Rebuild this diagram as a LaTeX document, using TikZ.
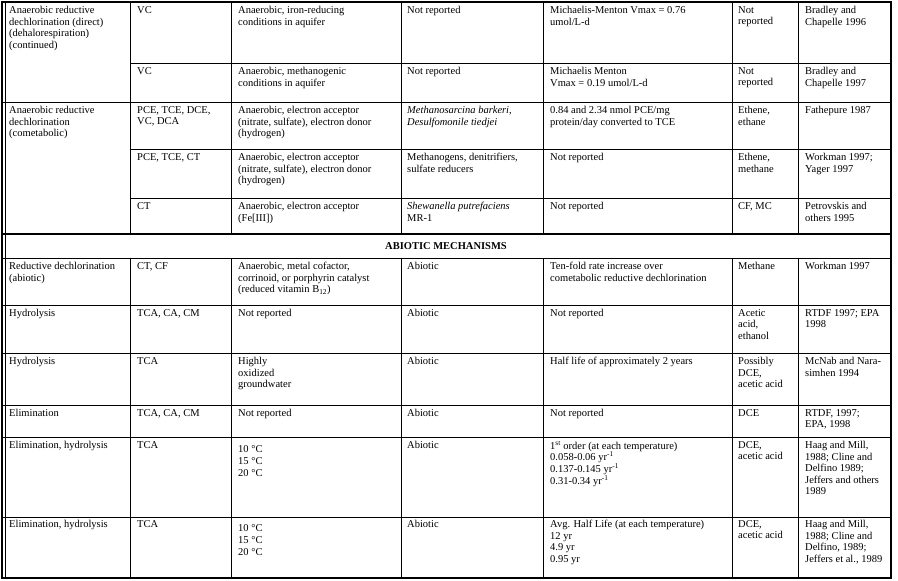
\documentclass[tikz,border=0pt]{standalone}
\usepackage{fontspec}
\setmainfont{Liberation Serif}
\usepackage{tikz}

\begin{document}
\begin{tikzpicture}[x=1pt,y=-1pt,
    cell/.style={anchor=north west,align=left,inner sep=0pt,
                 font=\fontsize{10.5}{11.6}\selectfont},
    rule/.style={line width=0.9pt},
    frame/.style={line width=1.6pt}]

                \useasboundingbox (0,0) rectangle (898,581);

                % Full width rules
                \foreach \y in {102,258,305,353,405,437,517} {
                    \draw [rule] (2,\y) -- (891,\y);
                }
                \draw [frame] (2,234) -- (891,234);

                % Rules inside the first two groups only
                \foreach \y in {63,149,198} {
                    \draw [rule] (130,\y) -- (891,\y);
                }

                % Column rules (broken by the heading row)
                \foreach \x in {130,231,401,543,732,798} {
                    \draw [rule] (\x,2) -- (\x,234);
                    \draw [rule] (\x,258) -- (\x,578);
                }

                % Outer frame, double on the left
                \draw [frame] (2,2) rectangle (891,578);
                \draw [line width=0.6pt] (5.5,2) -- (5.5,578);

                % Biotic rows
                \foreach \name/\x/\y/\txt in {
                mechA/9/6/{Anaerobic reductive\\dechlorination (direct)\\(dehalorespiration)\\(continued)},
                subA/137/6/VC,
                condA/238/6/{Anaerobic, iron-reducing\\conditions in aquifer},
                orgA/407/6/Not reported,
                rateA/550/6/{Michaelis-Menton Vmax = 0.76\\umol/L-d},
                prodA/738/6/{Not\\reported},
                refA/805/6/{Bradley and\\Chapelle 1996},
                subB/137/67/VC,
                condB/238/67/{Anaerobic, methanogenic\\conditions in aquifer},
                orgB/407/67/Not reported,
                rateB/550/67/{Michaelis Menton\\Vmax = 0.19 umol/L-d},
                prodB/738/67/{Not\\reported},
                refB/805/67/{Bradley and\\Chapelle 1997},
                mechC/9/106/{Anaerobic reductive\\dechlorination\\(cometabolic)},
                subC/137/106/{PCE, TCE, DCE,\\VC, DCA},
                condC/238/106/{Anaerobic, electron acceptor\\(nitrate, sulfate), electron donor\\(hydrogen)},
                orgC/407/106/{\textit{Methanosarcina barkeri},\\\textit{Desulfomonile tiedjei}},
                rateC/550/106/{0.84 and 2.34 nmol PCE/mg\\protein/day converted to TCE},
                prodC/738/106/{Ethene,\\ethane},
                refC/805/106/Fathepure 1987,
                subD/137/153/{PCE, TCE, CT},
                condD/238/153/{Anaerobic, electron acceptor\\(nitrate, sulfate), electron donor\\(hydrogen)},
                orgD/407/153/{Methanogens, denitrifiers,\\sulfate reducers},
                rateD/550/153/Not reported,
                prodD/738/153/{Ethene,\\methane},
                refD/805/153/{Workman 1997;\\Yager 1997},
                subE/137/202/CT,
                condE/238/202/{Anaerobic, electron acceptor\\(Fe[III])},
                orgE/407/202/{\textit{Shewanella putrefaciens}\\MR-1},
                rateE/550/202/Not reported,
                prodE/738/202/{CF, MC},
                refE/805/202/{Petrovskis and\\others 1995}} {
                \node [cell] (\name) at (\x,\y) {\txt};
                }

                % Heading of the second part
                \node [font=\fontsize{10.5}{11.6}\selectfont\bfseries] (abiotic) at (446,246) {ABIOTIC MECHANISMS};

                % Abiotic rows
                \foreach \name/\x/\y/\txt in {
                mechF/9/262/{Reductive dechlorination\\(abiotic)},
                subF/137/262/{CT, CF},
                condF/238/262/{Anaerobic, metal cofactor,\\corrinoid, or porphyrin catalyst\\(reduced vitamin B\textsubscript{12})},
                orgF/407/262/Abiotic,
                rateF/550/262/{Ten-fold rate increase over\\cometabolic reductive dechlorination},
                prodF/738/262/Methane,
                refF/805/262/Workman 1997,
                mechG/9/309/Hydrolysis,
                subG/137/309/{TCA, CA, CM},
                condG/238/309/Not reported,
                orgG/407/309/Abiotic,
                rateG/550/309/Not reported,
                prodG/738/309/{Acetic\\acid,\\ethanol},
                refG/805/309/{RTDF 1997; EPA\\1998},
                mechH/9/357/Hydrolysis,
                subH/137/357/TCA,
                condH/238/357/{Highly\\oxidized\\groundwater},
                orgH/407/357/Abiotic,
                rateH/550/357/{Half life of approximately 2 years},
                prodH/738/357/{Possibly\\DCE,\\acetic acid},
                refH/805/357/{McNab and Nara-\\simhen 1994},
                mechI/9/409/Elimination,
                subI/137/409/{TCA, CA, CM},
                condI/238/409/Not reported,
                orgI/407/409/Abiotic,
                rateI/550/409/Not reported,
                prodI/738/409/DCE,
                refI/805/409/{RTDF, 1997;\\EPA, 1998},
                mechJ/9/441/{Elimination, hydrolysis},
                subJ/137/441/TCA,
                condJ/238/441/{\mbox{}\\10 °C\\15 °C\\20 °C},
                orgJ/407/441/Abiotic,
                rateJ/550/441/{1\textsuperscript{st} order (at each temperature)\\0.058-0.06 yr\textsuperscript{-1}\\0.137-0.145 yr\textsuperscript{-1}\\0.31-0.34 yr\textsuperscript{-1}},
                prodJ/738/441/{DCE,\\acetic acid},
                refJ/805/441/{Haag and Mill,\\1988; Cline and\\Delfino 1989;\\Jeffers and others\\1989},
                mechK/9/520/{Elimination, hydrolysis},
                subK/137/520/TCA,
                condK/238/520/{\mbox{}\\10 °C\\15 °C\\20 °C},
                orgK/407/520/Abiotic,
                rateK/550/520/{Avg. Half Life (at each temperature)\\12 yr\\4.9 yr\\0.95 yr},
                prodK/738/520/{DCE,\\acetic acid},
                refK/805/520/{Haag and Mill,\\1988; Cline and\\Delfino, 1989;\\Jeffers et al., 1989}} {
                \node [cell] (\name) at (\x,\y) {\txt};
                }

            \end{tikzpicture}
\end{document}
